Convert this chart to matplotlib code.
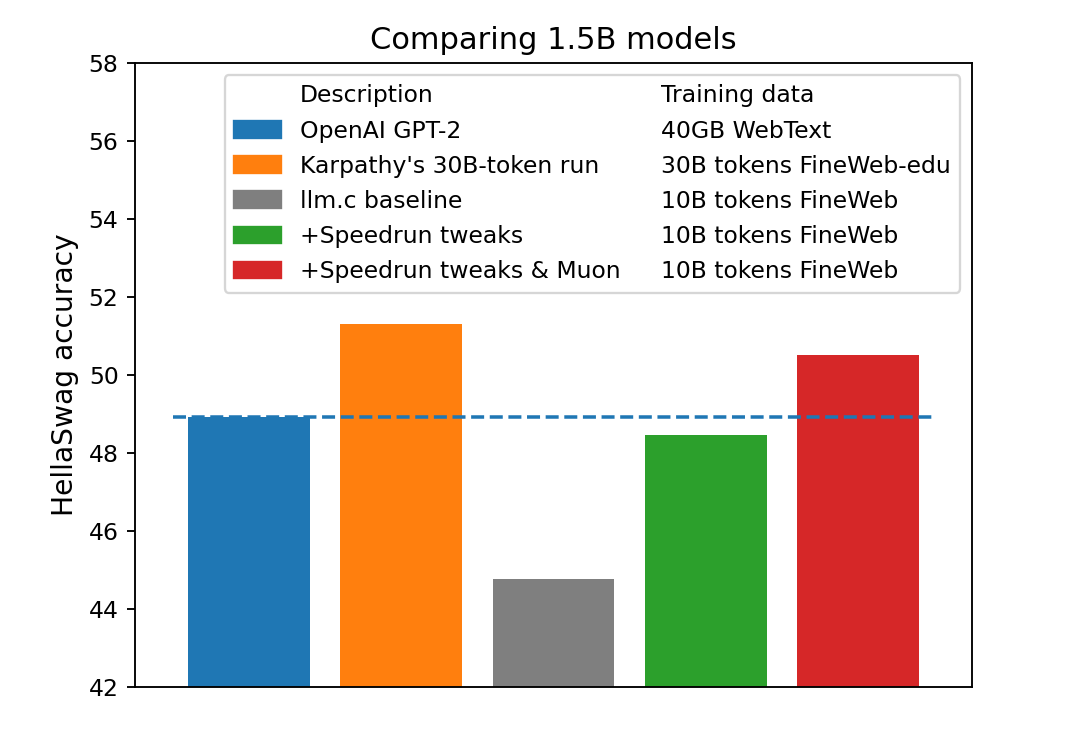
import matplotlib
matplotlib.use("Agg")
import matplotlib.pyplot as plt
from matplotlib.patches import Patch

# data
descriptions = ["OpenAI GPT-2", "Karpathy's 30B-token run", "llm.c baseline",
                "+Speedrun tweaks", "+Speedrun tweaks & Muon"]
training_data = ["40GB WebText", "30B tokens FineWeb-edu", "10B tokens FineWeb",
                 "10B tokens FineWeb", "10B tokens FineWeb"]
accuracy = [48.93, 51.30, 44.77, 48.46, 50.51]
colors = ["tab:blue", "tab:orange", "tab:gray", "tab:green", "tab:red"]
baseline = accuracy[0]

fig, ax = plt.subplots(figsize=(6.4, 4.4089), dpi=168.75)
fig.subplots_adjust(left=0.125, right=0.9, bottom=0.077, top=0.915)

x = range(len(accuracy))
ax.bar(x, accuracy, color=colors, width=0.8)
ax.hlines(baseline, -0.5, len(accuracy) - 0.5, colors="tab:blue", linestyles="--")

ax.set_ylim(42, 58)
ax.set_yticks(range(42, 59, 2))
ax.set_xticks([])
ax.set_ylabel("HellaSwag accuracy", fontsize=12)
ax.set_title("Comparing 1.5B models", fontsize=13)

# two-column legend: description | training data
blank = Patch(visible=False)
handles = [blank] + [Patch(color=c) for c in colors] + [blank] * 6
labels = ["Description"] + descriptions + ["Training data"] + training_data
ax.legend(handles, labels, ncol=2, loc="upper right", columnspacing=-1.05,
          labelspacing=0.52)

fig.savefig("out.png", dpi=168.75)
